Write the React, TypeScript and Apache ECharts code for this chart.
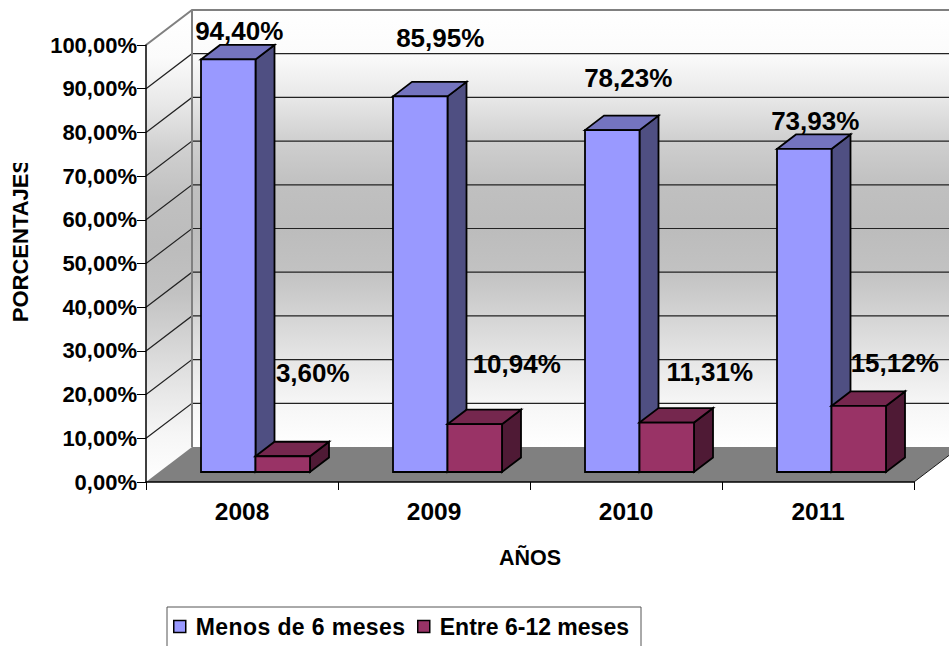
import React, { useEffect, useRef } from "react";
import * as echarts from "echarts";

const categories = ["2008", "2009", "2010", "2011"];
const menos6 = [94.4, 85.95, 78.23, 73.93];
const entre612 = [3.6, 10.94, 11.31, 15.12];
const yTicks = [0, 10, 20, 30, 40, 50, 60, 70, 80, 90, 100];
const labelOffsetsMenos = [[11, -28], [20, -58], [16, -52], [11, -28]];
const labelOffsetsEntre = [[30, -83], [42, -60], [43, -51], [36, -43]];

const FONT = "'Liberation Sans', Arial, sans-serif";
const WALL_DX = 46;
const WALL_DY = -35;
const BAR_SHIFT_X = 13.5;
const BAR_SHIFT_Y = -10;
const BAR_W = 54.5;
const DEPTH_X = 19;
const DEPTH_Y = -14.5;

const fmt = (v: number) => v.toFixed(2).replace(".", ",") + "%";

const wallGradient = () => ({
  type: "linear", x: 0, y: 0, x2: 0, y2: 1,
  colorStops: [
    { offset: 0, color: "#ffffff" },
    { offset: 0.1, color: "#fbfbfb" },
    { offset: 0.2, color: "#e8e8e8" },
    { offset: 0.3, color: "#cfcfcf" },
    { offset: 0.4, color: "#c0c0c0" },
    { offset: 0.5, color: "#bcbcbc" },
    { offset: 0.6, color: "#c2c2c2" },
    { offset: 0.7, color: "#d4d4d4" },
    { offset: 0.8, color: "#e6e6e6" },
    { offset: 0.9, color: "#f6f6f6" },
    { offset: 1, color: "#ffffff" },
  ],
});

function renderWalls(params: any, api: any) {
  const cs = params.coordSys;
  const x0 = cs.x;
  const x1 = cs.x + cs.width;
  const yTop = api.coord([0, 100])[1];
  const yBot = api.coord([0, 0])[1];
  const children: any[] = [
    {
      type: "polygon",
      shape: { points: [[x0, yTop], [x0 + WALL_DX, yTop + WALL_DY], [x0 + WALL_DX, yBot + WALL_DY], [x0, yBot]] },
      style: { fill: wallGradient(), stroke: "none" },
    },
    {
      type: "rect",
      shape: { x: x0 + WALL_DX, y: yTop + WALL_DY, width: x1 - x0, height: yBot - yTop },
      style: { fill: wallGradient(), stroke: "none" },
    },
    {
      type: "polygon",
      shape: { points: [[x0, yBot], [x0 + WALL_DX, yBot + WALL_DY], [x1 + WALL_DX, yBot + WALL_DY], [x1, yBot]] },
      style: { fill: "#808080", stroke: "none" },
    },
  ];
  yTicks.slice(1, -1).forEach((t) => {
    const y = api.coord([0, t])[1];
    children.push({
      type: "polyline",
      shape: { points: [[x0, y], [x0 + WALL_DX, y + WALL_DY], [x1 + WALL_DX, y + WALL_DY]] },
      style: { fill: "none", stroke: "#222", lineWidth: 1.2 },
    });
  });
  children.push({
    type: "polyline",
    shape: { points: [[x0, yTop], [x0 + WALL_DX, yTop + WALL_DY], [x1 + WALL_DX, yTop + WALL_DY]] },
    style: { fill: "none", stroke: "#808080", lineWidth: 2 },
  });
  children.push({
    type: "line",
    shape: { x1: x0 + WALL_DX, y1: yTop + WALL_DY, x2: x0 + WALL_DX, y2: yBot + WALL_DY },
    style: { stroke: "#808080", lineWidth: 2 },
  });
  children.push({
    type: "line",
    shape: { x1: x1, y1: yBot, x2: x1 + WALL_DX, y2: yBot + WALL_DY },
    style: { stroke: "#1a1a1a", lineWidth: 1 },
  });
  return { type: "group", children };
}

function makeBarRenderer(slot: number, front: string, top: string, side: string, offsets: number[][]) {
  return (params: any, api: any) => {
    const i = api.value(0);
    const val = api.value(1);
    const c = api.coord([i, val]);
    const c0 = api.coord([i, 0]);
    const left = c[0] + BAR_SHIFT_X - BAR_W + slot * BAR_W;
    const right = left + BAR_W;
    const yT = c[1] + BAR_SHIFT_Y;
    const yB = c0[1] + BAR_SHIFT_Y;
    const line = { stroke: "#000", lineWidth: 1.8, lineJoin: "miter" };
    const off = offsets[params.dataIndex];
    return {
      type: "group",
      children: [
        {
          type: "polygon",
          shape: { points: [[right, yT], [right + DEPTH_X, yT + DEPTH_Y], [right + DEPTH_X, yB + DEPTH_Y], [right, yB]] },
          style: { fill: side, ...line },
        },
        {
          type: "polygon",
          shape: { points: [[left, yT], [left + DEPTH_X, yT + DEPTH_Y], [right + DEPTH_X, yT + DEPTH_Y], [right, yT]] },
          style: { fill: top, ...line },
        },
        {
          type: "rect",
          shape: { x: left, y: yT, width: BAR_W, height: yB - yT },
          style: { fill: front, ...line },
        },
        {
          type: "text",
          z2: 100,
          style: {
            text: fmt(val),
            x: (left + right) / 2 + off[0],
            y: yT + off[1],
            fill: "#000",
            fontFamily: FONT,
            fontWeight: "bold",
            fontSize: 26,
            align: "center",
            verticalAlign: "middle",
          },
        },
      ],
    };
  };
}

export default function App() {
  const ref = useRef<HTMLDivElement>(null);
  useEffect(() => {
    const chart = echarts.init(ref.current!, undefined, { renderer: "svg" });
    chart.setOption({
      animation: false,
      backgroundColor: "#fff",
      textStyle: { fontFamily: FONT },
      grid: { left: 146, top: 45, width: 768, height: 437, outerBoundsMode: "none" },
      legend: {
        left: 170,
        top: 606,
        padding: [9, 12, 9, 3],
        data: [
          { name: "Menos de 6 meses", icon: "path://M0 0H10V10H0Z" },
          { name: "Entre 6-12 meses", icon: "path://M0 0H10V10H0Z" },
        ],
        itemWidth: 22,
        itemHeight: 12,
        itemGap: 18,
        selectedMode: false,
        textStyle: { fontFamily: FONT, fontWeight: "bold", fontSize: 23, color: "#000" },
        itemStyle: { borderColor: "#000", borderWidth: 1.5 },
      },
      xAxis: {
        type: "category",
        data: categories,
        z: 5,
        name: "AÑOS",
        nameLocation: "middle",
        nameGap: 65,
        nameTextStyle: { fontFamily: FONT, fontWeight: "bold", fontSize: 21.5, color: "#000" },
        axisLine: { show: true, lineStyle: { color: "#000", width: 1.5 } },
        axisTick: { show: true, length: 8, alignWithLabel: false, lineStyle: { color: "#000", width: 1 } },
        axisLabel: { margin: 17, fontFamily: FONT, fontWeight: "bold", fontSize: 24.5, color: "#000" },
      },
      yAxis: {
        type: "value",
        min: 0,
        max: 100,
        interval: 10,
        z: 5,
        name: "PORCENTAJES",
        nameLocation: "middle",
        nameGap: 115,
        nameRotate: 90,
        nameTextStyle: { fontFamily: FONT, fontWeight: "bold", fontSize: 22, color: "#000", padding: [0, 0, 0, 46] },
        axisLine: { show: true, lineStyle: { color: "#000", width: 1.5 } },
        axisTick: { show: true, length: 9, lineStyle: { color: "#000", width: 1 } },
        splitLine: { show: false },
        axisLabel: { margin: 9, padding: [2, 0, 0, 0], fontFamily: FONT, fontWeight: "bold", fontSize: 22, color: "#000", formatter: (v: number) => fmt(v) },
      },
      graphic: [
        { type: "rect", z: 100, silent: true, shape: { x: 4, y: 140, width: 32, height: 23 }, style: { fill: "#fff" } },
        { type: "rect", z: 100, silent: true, shape: { x: 167, y: 607, width: 474, height: 60 }, style: { fill: "none", stroke: "#555", lineWidth: 1 } },
      ],
      series: [
        {
          type: "custom",
          name: "walls",
          clip: false,
          silent: true,
          z: 1,
          data: [[0, 0]],
          encode: { x: 0, y: 1 },
          renderItem: renderWalls,
        },
        {
          type: "custom",
          name: "Menos de 6 meses",
          clip: false,
          z: 2,
          itemStyle: { color: "#9999ff" },
          data: menos6.map((v, i) => [i, v]),
          encode: { x: 0, y: 1 },
          renderItem: makeBarRenderer(0, "#9999ff", "#7474bf", "#4f4f82", labelOffsetsMenos),
        },
        {
          type: "custom",
          name: "Entre 6-12 meses",
          clip: false,
          z: 3,
          itemStyle: { color: "#993366" },
          data: entre612.map((v, i) => [i, v]),
          encode: { x: 0, y: 1 },
          renderItem: makeBarRenderer(1, "#993366", "#75274e", "#4f1a35", labelOffsetsEntre),
        },
      ],
    });
    ref.current!.querySelectorAll("text").forEach((t) => {
      if (t.textContent === "Menos de 6 meses") t.style.letterSpacing = "0.4px";
    });
    return () => chart.dispose();
  }, []);
  return <div ref={ref} style={{ position: "fixed", left: 0, top: 0, width: 949, height: 646 }} />;
}
